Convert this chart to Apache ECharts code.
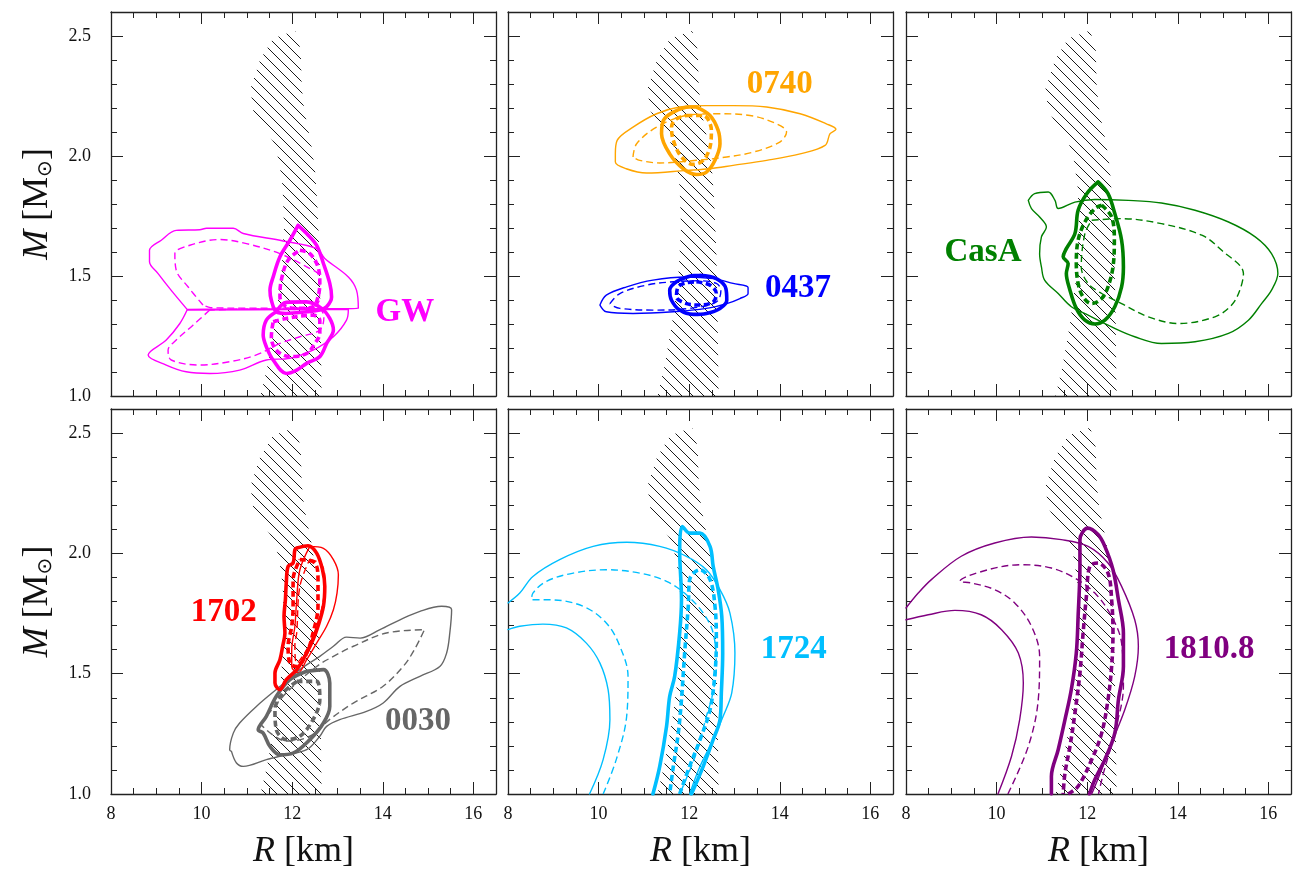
<!DOCTYPE html>
<html>
<head>
<meta charset="utf-8">
<script src="https://cdn.jsdelivr.net/npm/echarts@6/dist/echarts.min.js"></script>
<style>
html, body { margin: 0; background: #fff; }
#main { width: 1294px; height: 878px; }
</style>
</head>
<body>
<div id="main"></div>
<script>
// ---- axes ----
const xMajor = [8, 10, 12, 14, 16];
const yMajor = [1.0, 1.5, 2.0, 2.5];

// ---- hatched band (R [km], M [Msun]) ----
const band = [[12.02,2.52],[11.58,2.49],[11.29,2.40],[11.08,2.28],[11.14,2.19],[11.36,2.12],[11.58,2.06],[11.71,1.98],[11.79,1.87],[11.82,1.70],[11.76,1.50],[11.62,1.30],[11.45,1.12],[11.30,1.00],[12.65,1.00],[12.63,1.30],[12.60,1.60],[12.55,1.82],[12.50,1.95],[12.41,2.06],[12.33,2.13],[12.26,2.20],[12.21,2.29],[12.19,2.44],[12.07,2.52]];

// ---- GW ----
const gwUpThin = [[9.68,1.361],[9.33,1.44],[9.04,1.51],[8.85,1.559],[8.85,1.607],[9.11,1.649],[9.44,1.69],[9.96,1.693],[10.11,1.699],[10.70,1.699],[10.92,1.677],[11.80,1.646],[12.54,1.614],[12.72,1.573],[13.24,1.496],[13.42,1.441],[13.46,1.365],[12.0,1.363],[10.5,1.362],[9.68,1.361]];
const gwUpDash = [[10.03,1.379],[9.70,1.455],[9.44,1.524],[9.41,1.593],[9.74,1.628],[10.40,1.652],[10.99,1.635],[11.73,1.593],[12.32,1.538],[12.61,1.496],[12.60,1.40],[12.40,1.368],[11.0,1.366],[10.2,1.368],[10.03,1.379]];
const gwLoThin = [[9.68,1.358],[9.52,1.302],[9.22,1.233],[8.82,1.171],[9.22,1.129],[9.66,1.101],[10.18,1.094],[10.84,1.108],[11.43,1.150],[11.95,1.157],[12.46,1.191],[12.91,1.247],[13.20,1.316],[13.24,1.361],[12.0,1.36],[9.68,1.358]];
const gwLoDash = [[10.18,1.358],[9.81,1.295],[9.44,1.233],[9.26,1.191],[9.33,1.15],[9.96,1.129],[10.62,1.143],[11.21,1.171],[11.73,1.219],[12.17,1.247],[12.61,1.275],[12.70,1.33],[12.60,1.36],[11.0,1.362],[10.18,1.358]];
const gwUpThick = [[12.13,1.711],[12.32,1.677],[12.54,1.628],[12.69,1.552],[12.83,1.469],[12.87,1.413],[12.76,1.372],[12.61,1.358],[12.32,1.351],[11.87,1.344],[11.65,1.351],[11.54,1.399],[11.51,1.441],[11.58,1.496],[11.73,1.580],[11.95,1.649],[12.13,1.711]];
const gwUpThickDash = [[12.17,1.607],[12.39,1.593],[12.57,1.538],[12.61,1.469],[12.57,1.413],[12.46,1.372],[12.17,1.365],[11.87,1.372],[11.73,1.413],[11.76,1.483],[11.91,1.566],[12.17,1.607]];
const gwLoThick = [[11.65,1.351],[11.87,1.39],[12.32,1.392],[12.65,1.365],[12.83,1.323],[12.91,1.275],[12.76,1.219],[12.61,1.164],[12.32,1.136],[12.10,1.108],[11.87,1.094],[11.58,1.150],[11.43,1.205],[11.36,1.254],[11.43,1.316],[11.65,1.351]];
const gwLoThickDash = [[11.58,1.309],[11.87,1.323],[12.46,1.337],[12.61,1.316],[12.61,1.261],[12.50,1.219],[12.32,1.177],[11.95,1.164],[11.65,1.191],[11.54,1.247],[11.58,1.309]];

// ---- J0740 ----
const p0740Thin = [[10.37,2.009],[10.41,2.065],[10.76,2.12],[11.28,2.176],[11.79,2.204],[12.38,2.21],[12.97,2.21],[13.71,2.204],[14.45,2.176],[15.03,2.134],[15.24,2.111],[15.11,2.093],[15.0,2.044],[14.45,2.009],[13.71,1.982],[12.97,1.961],[12.46,1.947],[11.94,1.94],[11.06,1.929],[10.61,1.947],[10.37,1.975],[10.37,2.009]];
const p0740Dash = [[10.76,1.996],[10.84,2.051],[11.28,2.12],[11.94,2.169],[12.60,2.176],[13.34,2.169],[13.93,2.134],[14.15,2.10],[14.0,2.058],[13.41,2.016],[12.83,1.996],[12.16,1.982],[11.35,1.971],[10.91,1.982],[10.76,1.996]];
const p0740Thick = [[12.16,2.204],[12.46,2.169],[12.64,2.107],[12.68,2.051],[12.57,1.982],[12.38,1.933],[12.16,1.923],[11.87,1.947],[11.57,2.009],[11.39,2.093],[11.43,2.148],[11.65,2.183],[12.01,2.204],[12.16,2.204]];
const p0740ThickDash = [[11.94,2.169],[12.31,2.169],[12.49,2.107],[12.46,2.037],[12.31,1.982],[12.09,1.965],[11.83,1.996],[11.65,2.065],[11.61,2.12],[11.72,2.155],[11.94,2.169]];

// ---- J0437 ----
const p0437Thin = [[10.03,1.379],[10.17,1.42],[10.62,1.455],[11.20,1.483],[11.94,1.496],[12.53,1.489],[12.97,1.469],[13.30,1.452],[13.30,1.427],[13.12,1.406],[12.83,1.385],[12.38,1.365],[11.65,1.351],[10.76,1.344],[10.17,1.351],[10.03,1.379]];
const p0437Dash = [[10.25,1.385],[10.47,1.427],[11.06,1.462],[11.65,1.476],[12.24,1.48],[12.60,1.469],[12.70,1.44],[12.60,1.392],[12.01,1.365],[11.20,1.358],[10.47,1.365],[10.28,1.379],[10.25,1.385]];
const p0437Thick = [[12.24,1.503],[12.60,1.489],[12.81,1.448],[12.83,1.399],[12.68,1.365],[12.38,1.344],[12.09,1.34],[11.79,1.358],[11.61,1.399],[11.57,1.441],[11.72,1.476],[12.01,1.499],[12.24,1.503]];
const p0437ThickDash = [[12.16,1.476],[12.46,1.462],[12.60,1.427],[12.53,1.392],[12.24,1.379],[11.94,1.385],[11.72,1.413],[11.76,1.455],[11.94,1.472],[12.16,1.476]];

// ---- Cas A ----
const casaThin = [[10.70,1.815],[10.84,1.843],[11.14,1.85],[11.29,1.815],[11.36,1.781],[11.73,1.808],[12.17,1.819],[12.91,1.815],[13.64,1.804],[14.38,1.774],[15.12,1.725],[15.71,1.663],[16.07,1.593],[16.21,1.510],[16.07,1.441],[15.85,1.385],[15.56,1.316],[15.12,1.261],[14.38,1.226],[13.64,1.219],[13.05,1.247],[12.54,1.288],[12.02,1.337],[11.65,1.372],[11.36,1.427],[11.06,1.483],[10.99,1.538],[10.95,1.593],[10.99,1.663],[11.10,1.704],[10.95,1.746],[10.77,1.781],[10.70,1.815]];
const casaDash = [[12.10,1.732],[12.76,1.739],[13.64,1.718],[14.53,1.67],[14.97,1.607],[15.45,1.510],[15.37,1.441],[15.19,1.379],[14.82,1.33],[14.01,1.302],[13.35,1.33],[12.76,1.385],[12.32,1.427],[12.02,1.469],[11.87,1.538],[11.95,1.677],[12.10,1.732]];
const casaThick = [[12.24,1.892],[12.46,1.843],[12.61,1.76],[12.76,1.649],[12.80,1.538],[12.76,1.455],[12.61,1.372],[12.39,1.316],[12.17,1.30],[11.95,1.316],[11.76,1.365],[11.62,1.441],[11.54,1.51],[11.58,1.552],[11.47,1.580],[11.54,1.614],[11.73,1.677],[11.80,1.774],[11.99,1.843],[12.24,1.892]];
const casaThickDash = [[12.32,1.795],[12.54,1.746],[12.60,1.649],[12.57,1.538],[12.46,1.455],[12.32,1.406],[12.10,1.385],[11.91,1.413],[11.80,1.469],[11.76,1.552],[11.80,1.649],[11.95,1.725],[12.17,1.781],[12.32,1.795]];

// ---- 4U 1702 ----
const p1702Thin = [[12.39,2.029],[12.69,2.021],[12.91,1.974],[13.02,1.911],[12.99,1.835],[12.91,1.766],[12.76,1.697],[12.54,1.627],[12.32,1.558],[12.13,1.503],[11.99,1.530],[11.99,1.600],[12.06,1.697],[12.10,1.807],[12.17,1.932],[12.39,2.029]];
const p1702Dash = [[12.39,1.976],[12.65,1.953],[12.72,1.891],[12.69,1.807],[12.54,1.697],[12.32,1.600],[12.10,1.544],[12.06,1.62],[12.10,1.669],[12.17,1.863],[12.39,1.976]];
const p1702Thick = [[12.10,2.022],[12.35,2.032],[12.54,2.001],[12.67,1.932],[12.72,1.863],[12.69,1.780],[12.57,1.697],[12.46,1.641],[12.28,1.572],[12.10,1.517],[11.87,1.475],[11.73,1.434],[11.62,1.461],[11.62,1.503],[11.73,1.558],[11.79,1.614],[11.84,1.669],[11.82,1.738],[11.85,1.807],[11.87,1.877],[11.91,1.946],[12.02,1.960],[12.06,2.015],[12.10,2.022]];
const p1702ThickDash = [[12.17,1.974],[12.50,1.960],[12.57,1.891],[12.57,1.780],[12.46,1.669],[12.32,1.586],[12.10,1.530],[11.95,1.544],[11.91,1.614],[11.99,1.697],[12.02,1.780],[12.02,1.891],[12.17,1.974]];

// ---- J0030 ----
const p0030Thin = [[10.66,1.177],[10.77,1.129],[10.92,1.115],[11.43,1.143],[11.87,1.163],[12.32,1.184],[12.61,1.240],[12.76,1.281],[13.05,1.309],[13.64,1.343],[14.01,1.378],[14.38,1.447],[14.82,1.489],[15.26,1.530],[15.41,1.586],[15.48,1.669],[15.52,1.766],[15.30,1.780],[14.82,1.759],[14.38,1.724],[13.94,1.683],[13.50,1.648],[13.20,1.652],[12.91,1.614],[12.61,1.572],[12.17,1.517],[11.73,1.447],[11.21,1.364],[10.84,1.295],[10.70,1.253],[10.62,1.184],[10.66,1.177]];
const p0030Dash = [[11.30,1.29],[11.87,1.42],[12.54,1.53],[12.91,1.572],[13.35,1.614],[14.08,1.669],[14.92,1.683],[14.70,1.60],[14.45,1.53],[14.0,1.447],[13.35,1.378],[12.83,1.31],[12.39,1.24],[11.87,1.22],[11.30,1.29]];
const p0030Thick = [[12.32,1.510],[12.69,1.517],[12.83,1.461],[12.83,1.364],[12.69,1.295],[12.39,1.226],[12.02,1.170],[11.73,1.163],[11.51,1.198],[11.36,1.253],[11.25,1.267],[11.43,1.323],[11.65,1.406],[11.95,1.475],[12.32,1.510]];
const p0030ThickDash = [[12.10,1.468],[12.54,1.468],[12.61,1.392],[12.46,1.309],[12.17,1.240],[11.87,1.226],[11.65,1.267],[11.62,1.350],[11.80,1.420],[12.10,1.468]];

// ---- 4U 1724 ----
const p1724ThinOuter = [[8.0,1.794],[8.26,1.835],[8.55,1.904],[9.14,1.974],[9.88,2.029],[10.62,2.046],[11.35,2.029],[11.94,1.988],[12.38,1.932],[12.68,1.849],[12.90,1.752],[13.01,1.586],[12.94,1.420],[12.75,1.323],[12.53,1.226],[12.24,1.115],[12.01,1.0]];
const p1724ThinInner = [[8.0,1.683],[8.26,1.697],[8.77,1.706],[9.29,1.690],[9.73,1.627],[10.03,1.544],[10.21,1.434],[10.25,1.309],[10.10,1.143],[9.80,1.0]];
const p1724Dash = [[10.10,1.0],[10.39,1.143],[10.62,1.323],[10.65,1.489],[10.47,1.614],[10.17,1.711],[9.66,1.780],[8.92,1.807],[8.52,1.807],[8.55,1.835],[8.85,1.884],[9.44,1.918],[10.17,1.932],[10.91,1.918],[11.50,1.884],[11.94,1.828],[12.31,1.752],[12.53,1.669],[12.60,1.530],[12.50,1.40],[12.38,1.323],[12.16,1.170],[11.79,1.0]];
const p1724Thick = [[12.05,1.0],[12.31,1.115],[12.53,1.226],[12.68,1.309],[12.71,1.420],[12.74,1.586],[12.72,1.738],[12.64,1.849],[12.53,1.946],[12.46,2.029],[12.24,2.084],[12.01,2.084],[11.85,2.112],[11.79,2.015],[11.83,1.807],[11.79,1.669],[11.68,1.489],[11.57,1.406],[11.50,1.281],[11.35,1.115],[11.20,1.0]];
const p1724ThickDash = [[11.79,1.0],[12.01,1.115],[12.24,1.226],[12.46,1.350],[12.57,1.503],[12.60,1.641],[12.57,1.780],[12.46,1.891],[12.24,1.932],[12.01,1.891],[11.98,1.780],[11.90,1.586],[11.83,1.392],[11.76,1.253],[11.65,1.115],[11.57,1.0]];

// ---- SAX J1810.8 ----
const p1810ThinOuter = [[8.0,1.773],[8.27,1.835],[8.56,1.891],[9.22,1.988],[9.96,2.043],[10.77,2.068],[11.43,2.057],[12.02,2.029],[12.46,1.960],[12.76,1.863],[13.05,1.724],[13.13,1.614],[13.05,1.489],[12.83,1.350],[12.54,1.212],[12.32,1.101],[12.10,1.0]];
const p1810ThinInner = [[8.0,1.724],[8.49,1.745],[9.08,1.763],[9.66,1.745],[10.11,1.683],[10.48,1.586],[10.59,1.461],[10.51,1.309],[10.33,1.157],[10.03,1.0]];
const p1810Dash = [[10.25,1.0],[10.70,1.198],[10.92,1.392],[10.95,1.572],[10.77,1.697],[10.40,1.794],[9.96,1.849],[9.44,1.877],[9.19,1.884],[9.81,1.932],[10.55,1.953],[11.21,1.939],[11.73,1.897],[12.17,1.835],[12.54,1.738],[12.76,1.627],[12.80,1.45],[12.60,1.25],[12.35,1.08],[12.25,1.0]];
const p1810Thick = [[12.05,1.0],[12.17,1.060],[12.39,1.143],[12.61,1.253],[12.69,1.392],[12.80,1.530],[12.80,1.669],[12.69,1.807],[12.57,1.932],[12.39,2.029],[12.24,2.078],[12.01,2.105],[11.84,2.057],[11.84,1.946],[11.80,1.738],[11.76,1.586],[11.65,1.434],[11.51,1.309],[11.36,1.184],[11.21,1.073],[11.21,1.0]];
const p1810ThickDash = [[11.58,1.0],[11.80,1.032],[12.10,1.143],[12.32,1.253],[12.46,1.392],[12.54,1.530],[12.57,1.669],[12.54,1.807],[12.46,1.918],[12.24,1.960],[12.06,1.946],[11.99,1.835],[11.91,1.669],[11.84,1.503],[11.73,1.337],[11.62,1.198],[11.51,1.087],[11.47,1.0]];

// ---- source names and where they sit (R, M) ----
const sourceNames = ['GW', '0740', '0437', 'CasA', '1702', '0030', '1724', '1810.8'];
const sourceAt = [[14.49,1.35],[14.0,2.30],[14.4,1.45],[9.70,1.60],[10.49,1.753],[14.78,1.30],[14.31,1.60],[14.69,1.60]];

// ---- styling ----
const frame = '#222';
const serif = 'Liberation Serif';
const kinds = {
  thin: { width: 1.4, type: 'solid', cap: 'round' },
  dash: { width: 1.4, type: [7, 4], cap: 'butt' },
  thick: { width: 3.6, type: 'solid', cap: 'round' },
  thickDash: { width: 3.6, type: [6, 3.5], cap: 'butt' }
};

const panels = [
  { grid: { left: 111, top: 12, width: 385, height: 384 }, xl: false, yl: true,
    curves: [
      [gwUpThin, '#ff00ff', 'thin'], [gwUpDash, '#ff00ff', 'dash'], [gwLoThin, '#ff00ff', 'thin'], [gwLoDash, '#ff00ff', 'dash'],
      [gwUpThick, '#ff00ff', 'thick'], [gwUpThickDash, '#ff00ff', 'thickDash'], [gwLoThick, '#ff00ff', 'thick'], [gwLoThickDash, '#ff00ff', 'thickDash']
    ], labels: [[0, '#ff00ff']] },
  { grid: { left: 508, top: 12, width: 385, height: 384 }, xl: false, yl: false,
    curves: [
      [p0740Thin, '#ffa500', 'thin'], [p0740Dash, '#ffa500', 'dash'], [p0740Thick, '#ffa500', 'thick'], [p0740ThickDash, '#ffa500', 'thickDash'],
      [p0437Thin, '#0000ff', 'thin'], [p0437Dash, '#0000ff', 'dash'], [p0437Thick, '#0000ff', 'thick'], [p0437ThickDash, '#0000ff', 'thickDash']
    ], labels: [[1, '#ffa500'], [2, '#0000ff']] },
  { grid: { left: 906, top: 12, width: 385, height: 384 }, xl: false, yl: false,
    curves: [
      [casaThin, '#008000', 'thin'], [casaDash, '#008000', 'dash'], [casaThick, '#008000', 'thick'], [casaThickDash, '#008000', 'thickDash']
    ], labels: [[3, '#008000']] },
  { grid: { left: 111, top: 409, width: 385, height: 385 }, xl: true, yl: true,
    curves: [
      [p0030Thin, '#666666', 'thin'], [p0030Dash, '#666666', 'dash'], [p0030Thick, '#666666', 'thick'], [p0030ThickDash, '#666666', 'thickDash'],
      [p1702Thin, '#ff0000', 'thin'], [p1702Dash, '#ff0000', 'dash'], [p1702Thick, '#ff0000', 'thick'], [p1702ThickDash, '#ff0000', 'thickDash']
    ], labels: [[4, '#ff0000'], [5, '#666666']] },
  { grid: { left: 508, top: 409, width: 385, height: 385 }, xl: true, yl: false,
    curves: [
      [p1724ThinOuter, '#00bfff', 'thin'], [p1724ThinInner, '#00bfff', 'thin'], [p1724Dash, '#00bfff', 'dash'],
      [p1724Thick, '#00bfff', 'thick'], [p1724ThickDash, '#00bfff', 'thickDash']
    ], labels: [[6, '#00bfff']] },
  { grid: { left: 906, top: 409, width: 385, height: 385 }, xl: true, yl: false,
    curves: [
      [p1810ThinOuter, '#800080', 'thin'], [p1810ThinInner, '#800080', 'thin'], [p1810Dash, '#800080', 'dash'],
      [p1810Thick, '#800080', 'thick'], [p1810ThickDash, '#800080', 'thickDash']
    ], labels: [[7, '#800080']] }
];

// hatch tile: "\" lines
function makeHatch() {
  const s = 11;
  const c = document.createElement('canvas');
  c.width = s; c.height = s;
  const g = c.getContext('2d');
  g.strokeStyle = '#000';
  g.lineWidth = 0.9;
  g.beginPath();
  g.moveTo(0, 0); g.lineTo(s, s);
  g.moveTo(-2, s - 2); g.lineTo(2, s + 2);
  g.moveTo(s - 2, -2); g.lineTo(s + 2, 2);
  g.stroke();
  return c;
}
const hatch = makeHatch();

const tickLabel = { fontFamily: serif, fontSize: 18, color: '#111' };
const nameStyle = {
  fontFamily: serif, fontSize: 36, color: '#111',
  rich: {
    i: { fontFamily: serif, fontStyle: 'italic', fontSize: 36, color: '#111' },
    s: { fontFamily: 'DejaVu Sans', fontSize: 20, color: '#111', verticalAlign: 'bottom', lineHeight: 16 }
  }
};

function axisPair(dim, g, pos, showLabel, withName) {
  const isX = dim === 'x';
  const major = {
    gridIndex: g, type: 'value', position: pos,
    min: isX ? 8 : 1.0, max: isX ? 16.5 : 2.6, interval: isX ? 2 : 0.5,
    axisLine: { onZero: false, lineStyle: { color: frame, width: 1.3 } },
    axisTick: { inside: true, length: 12, lineStyle: { color: frame, width: 1 } },
    axisLabel: {
      show: showLabel, showMaxLabel: false, margin: isX ? 11 : 20,
      formatter: v => isX ? String(v) : v.toFixed(1),
      ...tickLabel
    },
    splitLine: { show: false }
  };
  if (withName) {
    major.name = isX ? '{i|R} [km]' : '{i|M} [M{s|⊙}]';
    major.nameLocation = 'middle';
    major.nameGap = isX ? 40 : 55;
    major.nameTextStyle = nameStyle;
  }
  const minor = {
    gridIndex: g, type: 'value', position: pos,
    min: isX ? 8 : 1.0, max: isX ? 16.5 : 2.6, interval: isX ? 0.5 : 0.1,
    axisLine: { show: false, onZero: false },
    axisTick: { inside: true, length: 6, lineStyle: { color: frame, width: 1 } },
    axisLabel: { show: false },
    splitLine: { show: false }
  };
  return [major, minor];
}

const grids = [], xAxes = [], yAxes = [], series = [];
panels.forEach((p, i) => {
  grids.push(p.grid);
  xAxes.push(...axisPair('x', i, 'bottom', p.xl, p.xl), ...axisPair('x', i, 'top', false, false));
  yAxes.push(...axisPair('y', i, 'left', p.yl, p.yl), ...axisPair('y', i, 'right', false, false));
  const ax = { xAxisIndex: i * 4, yAxisIndex: i * 4 };

  series.push({
    type: 'custom', ...ax, silent: true, z: 1,
    data: band, encode: { x: 0, y: 1 },
    renderItem: (params, api) => {
      if (params.dataIndex !== 0) return null;
      return {
        type: 'polygon',
        shape: { points: band.map(pt => api.coord(pt)) },
        style: { fill: { type: 'pattern', image: hatch, repeat: 'repeat' }, stroke: null }
      };
    }
  });

  p.curves.forEach(([data, color, kind]) => {
    const k = kinds[kind];
    series.push({
      type: 'line', ...ax, data: data, smooth: 0.35, showSymbol: false, silent: true,
      z: kind.startsWith('thick') ? 4 : 3,
      lineStyle: { color: color, width: k.width, type: k.type, cap: k.cap, join: 'round' }
    });
  });

  p.labels.forEach(([k, color]) => {
    series.push({
      type: 'scatter', ...ax, symbolSize: 0, silent: true, z: 5,
      itemStyle: { opacity: 1 },
      data: [{ name: sourceNames[k], value: sourceAt[k] }],
      label: {
        show: true, position: 'inside', formatter: '{b}', opacity: 1,
        fontFamily: serif, fontWeight: 'bold', fontSize: 33, color: color
      }
    });
  });
});

const chart = echarts.init(document.getElementById('main'));
chart.setOption({
  animation: false,
  backgroundColor: '#fff',
  grid: grids,
  xAxis: xAxes,
  yAxis: yAxes,
  series: series
});
</script>
</body>
</html>
